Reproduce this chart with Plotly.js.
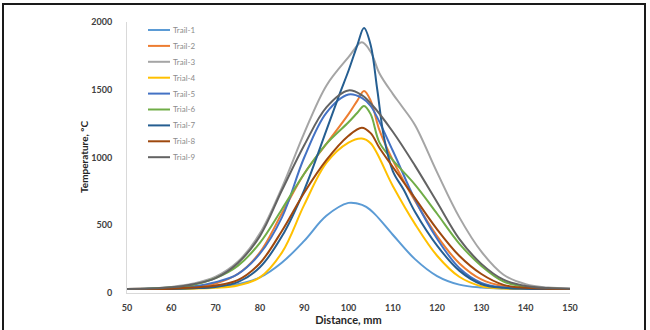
<!DOCTYPE html>
<html>
<head>
<meta charset="utf-8">
<script src="https://cdn.plot.ly/plotly-3.0.1.min.js"></script>
<style>
  html, body { margin: 0; padding: 0; background: #fff; }
  #wrap { position: relative; width: 650px; height: 330px; overflow: hidden; }
  #frame { position: absolute; left: 2px; top: 3px; width: 644px; height: 340px; border: 2px solid #1a1a1a; box-sizing: border-box; pointer-events: none; }
  #chart { position: absolute; left: 0; top: 0; width: 650px; height: 330px; }
</style>
</head>
<body>
<div id="wrap">
  <div id="chart"></div>
  <div id="frame"></div>
</div>
<script>
// Trace names
const names = ["Trail-1", "Trail-2", "Trail-3", "Trial-4", "Trail-5", "Trial-6", "Trial-7", "Trial-8", "Trial-9"];

// Distance (mm) and temperature (°C) readings for each trial
const x1 = [50, 55, 60, 65, 70, 75, 80, 85, 90, 95, 100, 102, 104, 106, 110, 115, 120, 125, 130, 135, 140, 145, 150];
const y1 = [30, 30, 32, 38, 45, 65, 115, 225, 385, 570, 665, 660, 635, 580, 430, 250, 125, 62, 40, 33, 31, 30, 30];

const x2 = [50, 55, 60, 65, 70, 75, 80, 85, 90, 95, 100, 102, 103.5, 105, 107, 110, 115, 120, 125, 130, 135, 140, 145, 150];
const y2 = [30, 31, 34, 45, 70, 140, 300, 590, 880, 1100, 1320, 1420, 1490, 1420, 1200, 980, 680, 420, 220, 100, 50, 35, 31, 30];

const x3 = [50, 55, 60, 65, 70, 75, 80, 85, 90, 95, 100, 103, 105, 107, 110, 112, 115, 120, 125, 130, 135, 140, 145, 150];
const y3 = [30, 35, 45, 70, 120, 230, 440, 780, 1180, 1530, 1740, 1850, 1780, 1620, 1470, 1380, 1240, 890, 560, 305, 135, 65, 40, 33];

const x4 = [50, 55, 60, 65, 70, 75, 80, 85, 90, 95, 100, 103, 105, 110, 115, 120, 125, 130, 135, 140, 145, 150];
const y4 = [30, 30, 30, 32, 38, 55, 115, 300, 650, 960, 1110, 1140, 1105, 790, 510, 275, 120, 50, 33, 30, 30, 30];

const x5 = [50, 55, 60, 65, 70, 75, 80, 85, 90, 95, 100, 103, 105, 110, 115, 120, 125, 130, 135, 140, 145, 150];
const y5 = [30, 32, 38, 50, 80, 140, 290, 560, 1000, 1330, 1465, 1440, 1380, 1050, 690, 400, 185, 75, 40, 33, 30, 30];

const x6 = [50, 55, 60, 65, 70, 75, 80, 85, 90, 95, 100, 102, 103.5, 105, 107, 110, 115, 120, 125, 130, 135, 140, 145, 150];
const y6 = [30, 32, 40, 60, 110, 200, 370, 620, 880, 1100, 1260, 1330, 1380, 1320, 1110, 980, 800, 585, 365, 200, 85, 45, 34, 30];

const x7 = [50, 55, 60, 65, 70, 75, 80, 85, 90, 95, 98, 100, 102, 103.5, 105, 106.5, 108, 110, 112.5, 115, 120, 125, 130, 135, 140, 145, 150];
const y7 = [30, 30, 30, 35, 45, 80, 190, 420, 760, 1200, 1470, 1640, 1830, 1955, 1830, 1500, 1150, 900, 760, 600, 350, 165, 65, 38, 32, 30, 30];

const x8 = [50, 55, 60, 65, 70, 75, 80, 85, 90, 95, 100, 103, 105, 107, 110, 115, 120, 125, 130, 135, 140, 145, 150];
const y8 = [30, 30, 32, 40, 55, 95, 220, 460, 740, 980, 1160, 1220, 1180, 1070, 930, 700, 470, 275, 140, 60, 38, 32, 30];

const x9 = [50, 55, 60, 65, 70, 75, 80, 85, 90, 95, 100, 103, 105, 110, 115, 120, 125, 130, 135, 140, 145, 150];
const y9 = [30, 33, 42, 65, 110, 220, 420, 760, 1090, 1370, 1495, 1460, 1400, 1190, 940, 670, 400, 215, 98, 52, 36, 32];

const xs = [x1, x2, x3, x4, x5, x6, x7, x8, x9];
const ys = [y1, y2, y3, y4, y5, y6, y7, y8, y9];
const colors = ["#5B9BD5", "#ED7D31", "#A5A5A5", "#FFC000", "#4472C4", "#70AD47", "#255E91", "#9E480E", "#636363"];

const traces = names.map((n, i) => ({
  x: xs[i], y: ys[i], name: n, type: "scatter", mode: "lines",
  line: { color: colors[i], width: 2, shape: "spline", smoothing: 1 }
}));

// Plot-area geometry (pixels) used to place the in-plot legend
const M = { l: 127, r: 80, t: 22, b: 37 };
const W = 650, H = 330;
const pw = W - M.l - M.r, ph = H - M.t - M.b;
const px2x = p => (p - M.l) / pw;
const px2y = p => (H - M.b - p) / ph;

const shapes = [], annotations = [];
names.forEach((n, i) => {
  const yy = px2y(30 + 15.9 * i);
  shapes.push({ type: "line", xref: "paper", yref: "paper", x0: px2x(148), x1: px2x(170), y0: yy, y1: yy,
    line: { color: colors[i], width: 2 } });
  annotations.push({ xref: "paper", yref: "paper", x: px2x(171), y: yy, xanchor: "left", yanchor: "middle",
    text: n, showarrow: false, font: { size: 8, color: "#8c8c8c" } });
});
annotations.push({ xref: "paper", yref: "paper", x: px2x(84), y: px2y(157), xanchor: "center", yanchor: "middle",
  text: "<b>Temperature, °C</b>", textangle: -90, showarrow: false, font: { size: 10, color: "#262626" } });

const layout = {
  width: W, height: H,
  margin: M,
  paper_bgcolor: "#fff", plot_bgcolor: "#fff",
  font: { family: "Lato, 'Liberation Sans', sans-serif", color: "#404040" },
  showlegend: false,
  shapes: shapes, annotations: annotations,
  xaxis: {
    range: [50, 150], tickvals: [50, 60, 70, 80, 90, 100, 110, 120, 130, 140, 150],
    showgrid: false, zeroline: false, showline: true, linecolor: "#d9d9d9", linewidth: 1,
    ticks: "", tickfont: { size: 9, color: "#404040", family: "Lato, sans-serif", weight: "bold" },
    ticklabelstandoff: 6,
    title: { text: "<b>Distance, mm</b>", font: { size: 11, color: "#262626" }, standoff: 4 }
  },
  yaxis: {
    range: [0, 2000], tickvals: [0, 500, 1000, 1500, 2000],
    showgrid: false, zeroline: false, showline: true, linecolor: "#d9d9d9", linewidth: 1,
    ticks: "", tickfont: { size: 9, color: "#404040", family: "Lato, sans-serif", weight: "bold" },
    ticklabelstandoff: 12
  }
};

Plotly.newPlot("chart", traces, layout, { displayModeBar: false, staticPlot: true });
</script>
</body>
</html>
